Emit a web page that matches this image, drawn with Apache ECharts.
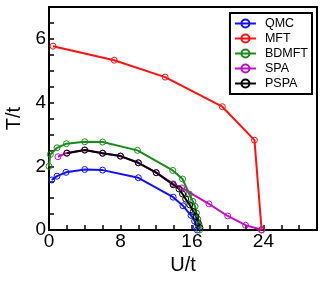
<!DOCTYPE html>
<html><head><meta charset="utf-8">
<script src="https://cdn.jsdelivr.net/npm/echarts@6/dist/echarts.min.js"></script>
<style>html,body{margin:0;padding:0;background:#fff}#c{width:327px;height:284px}</style>
</head><body><div id="c"></div>
<script>
const seriesNames = ['QMC','MFT','BDMFT','SPA','PSPA'];
const colors = ['#1010ff','#ff1010','#1a8a1a','#c010c0','#000000'];
const qmc = [[0.3,1.57],[0.9,1.69],[1.9,1.81],[4,1.9],[6,1.88],[10,1.64],[13.9,1.03],[15,0.76],[15.9,0.46],[16.3,0.28],[16.5,0.1],[16.6,0]];
const mft = [[0.45,5.77],[7.3,5.33],[13,4.8],[19.4,3.87],[23,2.82],[23.8,0]];
const bdmft = [[0,2.0],[0.15,2.37],[0.9,2.58],[1.95,2.71],[4,2.77],[6,2.76],[9.9,2.5],[13.85,1.87],[14.95,1.6],[15.7,1.13],[16.1,0.9],[16.35,0.74],[16.5,0.53],[16.65,0.34],[16.8,0.16],[16.85,0]];
const spa = [[1,2.3],[2,2.42],[4,2.51],[6,2.41],[8,2.32],[10,2.11],[12,1.8],[13.9,1.45],[14.85,1.32],[17.9,0.82],[20,0.44],[22,0.15],[23.8,0.01]];
const pspa = [[2,2.41],[4,2.51],[6,2.41],[8,2.32],[10,2.11],[12,1.8],[13.9,1.42],[14.55,1.29],[14.95,1.13],[15.3,0.97],[15.75,0.79],[16.15,0.58],[16.45,0.42],[16.7,0.23],[16.9,0.07]];
const xLabels = [0,8,16,24];
const yLabels = [0,2,4,6];
const allData = [qmc,mft,bdmft,spa,pspa];
const font = 'Liberation Sans, Arial, sans-serif';
const chart = echarts.init(document.getElementById('c'));
const order = [1,0,2,3,4];
chart.setOption({
  animation:false,
  backgroundColor:'#fff',
  grid:{left:49,right:10,top:7,bottom:54,show:true,borderColor:'#000',borderWidth:2,backgroundColor:'transparent',outerBoundsMode:'none',containLabel:false},
  legend:{
    orient:'vertical', right:15, top:13,
    data:seriesNames,
    borderColor:'#000', borderWidth:2, borderRadius:0,
    padding:[3,4,3,4], itemGap:0, itemWidth:21, itemHeight:10,
    backgroundColor:'#fff',
    textStyle:{fontSize:12.5,lineHeight:15,fontFamily:font,color:'#000',padding:[0,0,0,4]}
  },
  xAxis:{
    type:'value', min:0, max:30, interval:2,
    name:'U/t', nameLocation:'middle', nameGap:25,
    nameTextStyle:{fontSize:20,fontFamily:font,color:'#000'},
    axisLine:{show:true,lineStyle:{color:'#000',width:2}},
    axisTick:{show:true,inside:true,length:5,lineStyle:{color:'#000',width:1.5}},
    axisLabel:{margin:2,fontSize:19,fontFamily:font,color:'#000',showMaxLabel:true,
      formatter:v=>xLabels.includes(v)?String(v):''},
    splitLine:{show:false}
  },
  yAxis:{
    type:'value', min:0, max:7, interval:0.5,
    name:'T/t', nameLocation:'middle', nameGap:24, nameRotate:90,
    nameTextStyle:{fontSize:20,fontFamily:font,color:'#000'},
    axisLine:{show:true,lineStyle:{color:'#000',width:2}},
    axisTick:{show:true,inside:true,length:5,lineStyle:{color:'#000',width:1.5}},
    axisLabel:{margin:3,fontSize:19,fontFamily:font,color:'#000',
      formatter:v=>yLabels.includes(v)?String(v):''},
    splitLine:{show:false}
  },
  series: order.map(i=>({
    name:seriesNames[i], type:'line', data:allData[i],
    symbol:'circle', symbolSize:6,
    lineStyle:{color:colors[i],width:2},
    itemStyle:{color:'rgba(255,255,255,0)',borderColor:colors[i],borderWidth:1},
    emphasis:{disabled:true}
  }))
});
</script></body></html>
